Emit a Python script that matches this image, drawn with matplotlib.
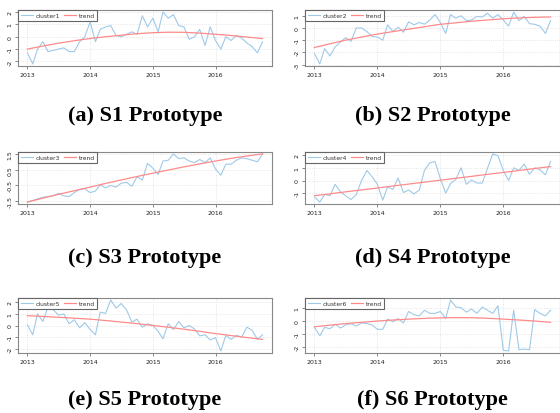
import numpy as np
import pandas as pd
import matplotlib
matplotlib.use("Agg")
import matplotlib.pyplot as plt
import matplotlib.dates as mdates
from matplotlib.ticker import FixedLocator, FormatStrFormatter

W, H = 560, 414

# monthly observations, Jan 2013 .. Oct 2016
months = pd.date_range("2013-01-01", periods=46, freq="MS")
quarters = months[::3]

cluster1 = [-1.3, -2.2, -1.0, -0.4, -1.2, -1.1, -1.0, -0.9, -1.2, -1.2, -0.4, 0.0,
            1.2, -0.4, 0.6, 0.8, 0.9, 0.1, 0.0, 0.2, 0.4, 0.2, 1.7, 0.8,
            1.5, 0.4, 2.0, 1.5, 1.8, 0.9, 0.8, -0.2, 0.0, 0.6, -0.7, 0.8,
            -0.3, -1.0, 0.0, -0.3, 0.1, -0.1, -0.5, -0.8, -1.3, -0.4]
cluster2 = [-2.1, -2.95, -1.7, -2.3, -1.55, -1.15, -0.8, -1.1, 0.0, 0.0, -0.3, -0.7,
            -0.75, -1.0, 0.25, -0.3, 0.05, -0.35, 0.5, 0.25, 0.45, 0.3, 0.65, 1.1,
            0.45, -0.45, 1.1, 0.8, 1.0, 0.6, 0.65, 0.95, 0.9, 1.2, 0.8, 1.1,
            0.65, 0.15, 1.3, 0.6, 0.95, 0.35, 0.3, 0.15, -0.45, 0.6]
cluster3 = [-1.55, -1.45, -1.35, -1.25, -1.2, -1.15, -1.0, -1.15, -1.2, -0.95, -0.75, -0.7,
            -0.95, -0.85, -0.45, -0.65, -0.5, -0.6, -0.35, -0.3, -0.55, 0.05, -0.15, 0.9,
            0.6, 0.2, 1.05, 1.1, 1.5, 1.2, 1.25, 1.05, 0.95, 1.15, 0.95, 1.25,
            0.55, 0.15, 0.85, 0.85, 1.1, 1.25, 1.2, 1.1, 1.0, 1.5]
cluster4 = [-1.3, -1.7, -1.1, -1.2, -0.3, -0.9, -1.2, -1.5, -1.1, 0.0, 0.8, 0.3,
            -0.3, -1.55, -0.5, -0.7, 0.2, -0.95, -0.75, -1.05, -0.75, 0.8, 1.4, 1.5,
            0.15, -1.0, -0.25, 0.1, 1.0, -0.3, 0.05, -0.2, -0.2, 0.95, 2.1, 1.95,
            0.8, 0.0, 1.0, 0.8, 1.3, 0.5, 1.0, 0.85, 0.45, 1.5]
cluster5 = [0.05, -0.8, 1.0, 0.35, 1.6, 1.35, 0.9, 1.0, 0.15, 0.5, -0.2, 0.25,
            -0.35, -0.8, 1.15, 1.05, 2.2, 1.5, 1.9, 1.35, 0.3, 0.55, -0.15, 0.15,
            0.0, -0.5, -1.15, 0.15, -0.35, 0.35, -0.2, 0.0, -0.3, -0.9, -0.8, -1.25,
            -1.05, -2.2, -0.85, -1.2, -0.85, -1.0, -0.15, -0.4, -1.2, -0.8]
cluster6 = [-0.5, -1.15, -0.5, -0.6, -0.25, -0.55, -0.3, -0.2, -0.4, -0.15, -0.2, -0.3,
            -0.65, -0.65, 0.15, -0.05, 0.2, -0.15, 0.75, 0.5, 0.4, 0.85, 0.6, 0.6,
            0.75, 0.2, 1.65, 1.1, 1.05, 0.7, 0.95, 0.6, 1.1, 0.85, 0.6, 1.2,
            -2.3, -2.35, 0.85, -2.25, -2.2, -2.25, 0.9, 0.6, 0.4, 0.85]

# fitted trend, read every third month
trend1 = [-1.0, -0.75, -0.52, -0.32, -0.14, 0.0, 0.13, 0.25, 0.33, 0.37, 0.36, 0.3, 0.2, 0.1, -0.02, -0.15]
trend2 = [-1.6, -1.3, -1.0, -0.75, -0.5, -0.3, -0.1, 0.1, 0.3, 0.42, 0.55, 0.65, 0.75, 0.82, 0.87, 0.9]
trend3 = [-1.55, -1.3, -1.06, -0.83, -0.6, -0.37, -0.15, 0.07, 0.28, 0.48, 0.68, 0.87, 1.05, 1.22, 1.37, 1.5]
trend4 = [-1.2, -1.05, -0.89, -0.74, -0.59, -0.43, -0.28, -0.13, 0.03, 0.18, 0.33, 0.49, 0.64, 0.79, 0.95, 1.1]
trend5 = [0.85, 0.78, 0.71, 0.63, 0.55, 0.43, 0.3, 0.16, 0.0, -0.15, -0.32, -0.5, -0.7, -0.87, -1.04, -1.2]
trend6 = [-0.45, -0.32, -0.2, -0.1, 0.0, 0.08, 0.15, 0.21, 0.25, 0.27, 0.26, 0.22, 0.15, 0.08, 0.0, -0.1]

series = [cluster1, cluster2, cluster3, cluster4, cluster5, cluster6]
trends = [trend1, trend2, trend3, trend4, trend5, trend6]
names = ["cluster1", "cluster2", "cluster3", "cluster4", "cluster5", "cluster6"]
captions = ["(a) S1 Prototype", "(b) S2 Prototype", "(c) S3 Prototype",
            "(d) S4 Prototype", "(e) S5 Prototype", "(f) S6 Prototype"]
yticks = [[-2, -1, 0, 1, 2], [-3, -2, -1, 0, 1], [-1.5, -0.5, 0.5, 1.5],
          [-1, 0, 1, 2], [-2, -1, 0, 1, 2], [-2, -1, 0, 1]]

# pixel boxes of the panels
rows = [(11, 67, 116), (153, 205, 258), (299, 354, 400)]
cols = [(18, 272), (305, 560)]

fig = plt.figure(figsize=(W / 100, H / 100), dpi=100)

for k in range(6):
    top, bot, cap_y = rows[k // 2]
    left, right = cols[k % 2]
    ax = fig.add_axes([left / W, 1 - bot / H, (right - left) / W, (bot - top) / H])

    ax.plot(months, series[k], color="#9ecae8", lw=0.8, label=names[k])
    ax.plot(quarters, trends[k], color="#ff8a8a", lw=0.9, label="trend")
    ax.margins(x=0.04, y=0.04)

    ax.xaxis.set_major_locator(mdates.YearLocator())
    ax.xaxis.set_major_formatter(mdates.DateFormatter("%Y"))
    ax.yaxis.set_major_locator(FixedLocator(yticks[k]))
    ax.yaxis.set_major_formatter(FormatStrFormatter("%g"))
    for lab in ax.get_yticklabels():
        lab.set_rotation(90)
        lab.set_va("center")

    ax.tick_params(labelsize=4.5, length=2, width=0.5, color="#555555",
                   labelcolor="#222222", pad=2)
    ax.grid(True, color="#dddddd", ls=":", lw=0.6)
    for sp in ax.spines.values():
        sp.set_color("#888888")
        sp.set_linewidth(0.8)

    leg = ax.legend(loc="upper left", ncol=2, fontsize=4.3, frameon=True,
                    fancybox=False, edgecolor="#666666", framealpha=1,
                    borderaxespad=0, handlelength=2.0, columnspacing=0.6,
                    handletextpad=0.5, borderpad=0.45)
    leg.get_frame().set_linewidth(0.8)
    for t in leg.get_texts():
        t.set_color("#333333")

    fig.text(((left + right) / 2) / W, 1 - cap_y / H, captions[k],
             ha="center", va="center", family="Liberation Serif",
             weight="bold", fontsize=16)

fig.savefig("out.png", dpi=100)
